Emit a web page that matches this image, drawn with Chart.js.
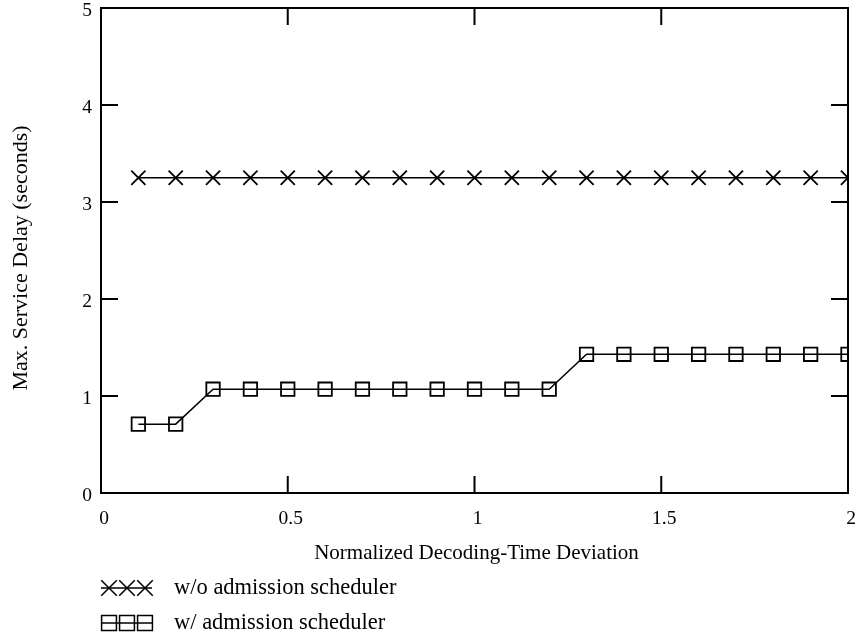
<!DOCTYPE html>
<html>
<head>
<meta charset="utf-8">
<script src="https://cdn.jsdelivr.net/npm/chart.js@4.4.1/dist/chart.umd.min.js"></script>
<style>
  html, body { margin: 0; padding: 0; background: #fff; }
  #wrap { width: 855px; height: 636px; }
</style>
</head>
<body>
<div id="wrap"><canvas id="delayChart" width="855" height="636"></canvas></div>
<script>
// 데이터
const deviation = [0.1, 0.2, 0.3, 0.4, 0.5, 0.6, 0.7, 0.8, 0.9, 1.0,
                   1.1, 1.2, 1.3, 1.4, 1.5, 1.6, 1.7, 1.8, 1.9, 2.0];
const withoutScheduler = [3.25, 3.25, 3.25, 3.25, 3.25, 3.25, 3.25, 3.25, 3.25, 3.25,
                          3.25, 3.25, 3.25, 3.25, 3.25, 3.25, 3.25, 3.25, 3.25, 3.25];
const withScheduler = [0.71, 0.71, 1.07, 1.07, 1.07, 1.07, 1.07, 1.07, 1.07, 1.07,
                       1.07, 1.07, 1.43, 1.43, 1.43, 1.43, 1.43, 1.43, 1.43, 1.43];
const seriesNames = ['w/o admission scheduler', 'w/ admission scheduler'];
const xTicks = [0, 0.5, 1, 1.5, 2];
const yTicks = [0, 1, 2, 3, 4, 5];
const xTitle = 'Normalized Decoding-Time Deviation';
const yTitle = 'Max. Service Delay (seconds)';

const serif = '"Liberation Serif", "DejaVu Serif", serif';

// 안쪽 눈금 + 테두리, 눈금 라벨, 축 제목, 범례
const framePlugin = {
    id: 'frame',
    afterDraw(chart) {
        const ctx = chart.ctx;
        const a = chart.chartArea;
        const xs = chart.scales.x;
        const ys = chart.scales.y;
        const len = 17;
        ctx.save();
        ctx.strokeStyle = '#000';
        ctx.lineWidth = 2;
        ctx.strokeRect(a.left, a.top, a.right - a.left, a.bottom - a.top);
        ctx.beginPath();
        xTicks.forEach(v => {
            const px = xs.getPixelForValue(v);
            ctx.moveTo(px, a.bottom); ctx.lineTo(px, a.bottom - len);
            ctx.moveTo(px, a.top); ctx.lineTo(px, a.top + len);
        });
        yTicks.forEach(v => {
            const py = ys.getPixelForValue(v);
            ctx.moveTo(a.left, py); ctx.lineTo(a.left + len, py);
            ctx.moveTo(a.right, py); ctx.lineTo(a.right - len, py);
        });
        ctx.stroke();

        // 눈금 라벨
        ctx.fillStyle = '#000';
        ctx.font = '19.5px ' + serif;
        ctx.textAlign = 'center';
        ctx.textBaseline = 'middle';
        xTicks.forEach(v => {
            ctx.fillText(String(v), xs.getPixelForValue(v) + 3, a.bottom + 26);
        });
        ctx.textAlign = 'right';
        yTicks.forEach(v => {
            ctx.fillText(String(v), a.left - 9, ys.getPixelForValue(v) + 3);
        });

        // 축 제목
        ctx.font = '21px ' + serif;
        ctx.textAlign = 'center';
        ctx.fillText(xTitle, (a.left + a.right) / 2 + 2, 553);
        ctx.save();
        ctx.translate(21, 258);
        ctx.rotate(-Math.PI / 2);
        ctx.font = '22px ' + serif;
        ctx.fillText(yTitle, 0, 0);
        ctx.restore();

        // 범례
        const rows = [588, 623];
        const legendRadius = [11, 10.5];
        chart.data.datasets.forEach((ds, i) => {
            const y = rows[i];
            ctx.strokeStyle = '#000';
            ctx.fillStyle = 'rgba(0,0,0,0)';
            ctx.lineWidth = 1.5;
            ctx.beginPath();
            ctx.moveTo(101, y); ctx.lineTo(152, y);
            ctx.stroke();
            [109, 127, 145].forEach(x => {
                Chart.helpers.drawPoint(ctx, {
                    pointStyle: ds.pointStyle,
                    radius: legendRadius[i],
                    borderWidth: ds.pointBorderWidth
                }, x, y);
            });
            ctx.fillStyle = '#000';
            ctx.font = '22.5px ' + serif;
            ctx.textAlign = 'left';
            ctx.textBaseline = 'middle';
            ctx.fillText(ds.label, 174, y);
        });
        ctx.restore();
    }
};

new Chart(document.getElementById('delayChart'), {
    type: 'line',
    data: {
        datasets: [{
            label: seriesNames[0],
            data: deviation.map((x, i) => ({ x: x, y: withoutScheduler[i] })),
            borderColor: '#000',
            borderWidth: 1.5,
            pointStyle: 'crossRot',
            pointRadius: 10,
            pointBorderWidth: 1.8,
            pointBorderColor: '#000',
            pointBackgroundColor: 'rgba(0,0,0,0)',
            clip: 0
        }, {
            label: seriesNames[1],
            data: deviation.map((x, i) => ({ x: x, y: withScheduler[i] })),
            borderColor: '#000',
            borderWidth: 1.5,
            pointStyle: 'rect',
            pointRadius: 9.5,
            pointBorderWidth: 1.8,
            pointBorderColor: '#000',
            pointBackgroundColor: 'rgba(0,0,0,0)',
            clip: 0
        }]
    },
    options: {
        responsive: false,
        animation: false,
        layout: { autoPadding: false, padding: { left: 0, right: 7, top: 8, bottom: 0 } },
        plugins: {
            legend: { display: false },
            tooltip: { enabled: false }
        },
        scales: {
            x: {
                type: 'linear',
                min: 0,
                max: 2,
                afterFit: s => { s.height = 143; },
                afterBuildTicks: s => { s.ticks = xTicks.map(v => ({ value: v })); },
                grid: { display: false, drawTicks: false },
                border: { display: false },
                ticks: { display: false }
            },
            y: {
                min: 0,
                max: 5,
                afterFit: s => { s.width = 101; },
                afterBuildTicks: s => { s.ticks = yTicks.map(v => ({ value: v })); },
                grid: { display: false, drawTicks: false },
                border: { display: false },
                ticks: { display: false }
            }
        }
    },
    plugins: [framePlugin]
});
</script>
</body>
</html>
